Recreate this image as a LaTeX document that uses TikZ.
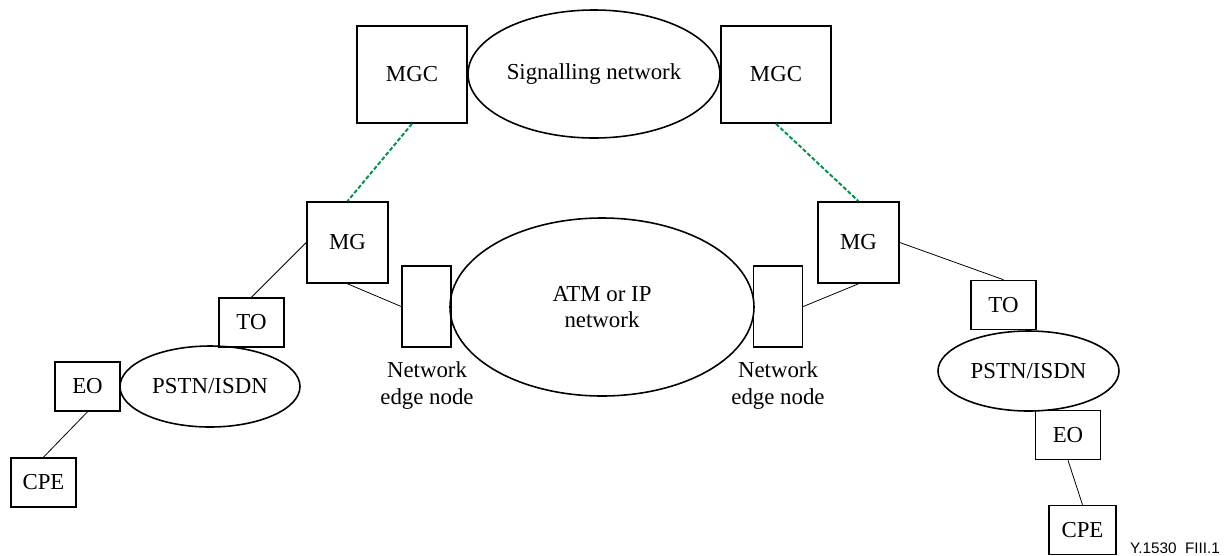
\documentclass[tikz,border=0pt]{standalone}
\usepackage{fontspec}
\setmainfont{Liberation Serif}
\newfontfamily\tagfont{Liberation Sans}
\usepackage{xcolor}
\usetikzlibrary{shapes.geometric}
\definecolor{sigGreen}{RGB}{0,145,70}
\tikzset{
	box/.style={draw, line width=0.9pt, inner sep=0pt, minimum width=#1},
	net/.style={draw, ellipse, line width=0.9pt, inner sep=0pt, align=center},
	link/.style={line width=0.45pt},
	ctrl/.style={draw=sigGreen, line width=1.1pt, dash pattern=on 2.3pt off 1.2pt}
}

\begin{document}
\begin{tikzpicture}[font=\fontsize{13}{14.8}\selectfont]
        \useasboundingbox (0, 0) rectangle (24.58, -11.10);
        % signalling level
        \node[box=2.2cm, minimum height=1.94cm] (mgc_l) at (8.24, -1.49) {MGC};
        \node[net, minimum width=5.04cm, minimum height=2.56cm] (sig) at (11.88, -1.48) {Signalling network};
        \node[box=2.2cm, minimum height=1.94cm] (mgc_r) at (15.52, -1.49) {MGC};
        % transport core
        \node[box=1.62cm, minimum height=1.62cm] (mg_l) at (6.95, -4.85) {MG};
        \node[box=0.98cm, minimum height=1.62cm] (edge_l) at (8.53, -6.13) {};
        \node[net, minimum width=6.08cm, minimum height=3.56cm] (core) at (12.04, -6.14) {ATM or IP\\network};
        \node[box=0.98cm, minimum height=1.62cm] (edge_r) at (15.56, -6.13) {};
        \node[box=1.62cm, minimum height=1.62cm] (mg_r) at (17.17, -4.85) {MG};
        \node[align=center, anchor=north, font=\fontsize{13}{15.6}\selectfont] (lbl_l) at (8.54, -7.10) {Network\\edge node};
        \node[align=center, anchor=north, font=\fontsize{13}{15.6}\selectfont] (lbl_r) at (15.56, -7.10) {Network\\edge node};
        % left PSTN side
        \node[box=1.3cm, minimum height=0.98cm] (to_l) at (5.03, -6.45) {TO};
        \node[net, minimum width=3.6cm, minimum height=1.62cm] (pstn_l) at (4.20, -7.73) {PSTN/ISDN};
        \node[box=1.3cm, minimum height=0.98cm] (eo_l) at (1.75, -7.73) {EO};
        \node[box=1.3cm, minimum height=0.98cm] (cpe_l) at (0.87, -9.65) {CPE};
        % right PSTN side
        \node[box=1.3cm, minimum height=0.98cm] (to_r) at (20.07, -6.10) {TO};
        \node[net, minimum width=3.62cm, minimum height=1.6cm] (pstn_r) at (20.57, -7.42) {PSTN/ISDN};
        \node[box=1.3cm, minimum height=0.98cm] (eo_r) at (21.36, -8.70) {EO};
        \node[box=1.34cm, minimum height=0.98cm] (cpe_r) at (21.65, -10.60) {CPE};
        \node[font=\tagfont\fontsize{8.7}{10}\selectfont] (tag) at (23.50, -10.96) {Y.1530\ \ FIII.1};
        % connections
        \draw[ctrl] (mgc_l.south) -- (mg_l.north);
        \draw[ctrl] (mgc_r.south) -- (mg_r.north);
        \draw[link] (mg_l.west) -- (to_l.north);
        \draw[link] (mg_l.south) -- (edge_l.west);
        \draw[link] (mg_r.south) -- (edge_r.east);
        \draw[link] (mg_r.east) -- (to_r.north);
        \draw[link] (eo_l.south) -- (cpe_l.north);
        \draw[link] (eo_r.south) -- (cpe_r.north);
    \end{tikzpicture}
\end{document}
